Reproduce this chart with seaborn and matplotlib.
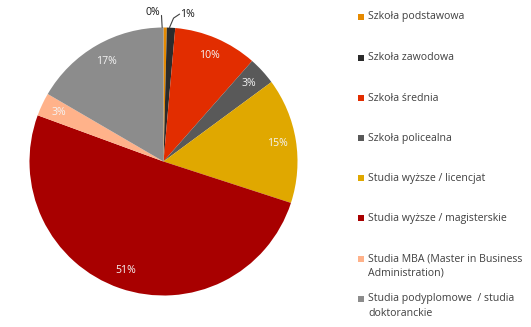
import numpy as np
import matplotlib
matplotlib.use("Agg")
import matplotlib.pyplot as plt
import seaborn as sns
from matplotlib.patches import Rectangle

categories = [
    "Szkoła podstawowa",
    "Szkoła zawodowa",
    "Szkoła średnia",
    "Szkoła policealna",
    "Studia wyższe / licencjat",
    "Studia wyższe / magisterskie",
    "Studia MBA (Master in Business\nAdministration)",
    "Studia podyplomowe  / studia\ndoktoranckie",
]
values = [0.4, 1.0, 10.1, 3.4, 15.1, 50.6, 2.8, 16.6]
colors = ["#E68A00", "#2B2B2B", "#E22D00", "#595959", "#E0A800",
          "#A80000", "#FFB28A", "#8C8C8C"]

sns.set_theme(style="white")
plt.rcParams['font.family'] = ['Open Sans', 'DejaVu Sans']
FS = 7.6

W, H = 531, 327
fig = plt.figure(figsize=(W / 100, H / 100), dpi=100)
cx, cy, r = 163.5, 161.5, 134
ax = fig.add_axes([(cx - r) / W, (H - cy - r) / H, 2 * r / W, 2 * r / H])

total = sum(values)

def fmt(p):
    return "" if p < 2 else f"{p:.0f}%"

wedges, texts, autotexts = ax.pie(
    values, colors=colors, startangle=90, counterclock=False,
    autopct=fmt, pctdistance=0.86, radius=1,
    wedgeprops=dict(linewidth=0),
    textprops=dict(color="#F4F4F4", fontsize=FS),
)
ax.set_xlim(-1, 1)
ax.set_ylim(-1, 1)
ax.set_aspect("equal")
ax.axis("off")

# outside labels for the tiny slices
for i, (txt_xy, path) in enumerate([
    ((-0.08, 1.11), [(-0.01, 1.0), (-0.015, 1.09)]),
    ((0.18, 1.10), [(0.045, 1.0), (0.075, 1.07), (0.12, 1.10)]),
]):
    pct = values[i] / total * 100
    ax.plot([p[0] for p in path], [p[1] for p in path],
            color="#404040", lw=0.8, clip_on=False)
    ax.text(txt_xy[0], txt_xy[1], f"{pct:.0f}%", ha="center", va="center",
            fontsize=FS, color="#1a1a1a", clip_on=False)

# legend
ys = [17, 58, 98, 138, 178, 218, 259, 299]
for lab, col, y in zip(categories, colors, ys):
    fig.patches.append(Rectangle((358 / W, (H - y - 3) / H), 6 / W, 6 / H,
                                 transform=fig.transFigure, facecolor=col,
                                 edgecolor="none"))
    for k, ln in enumerate(lab.split("\n")):
        fig.text(368 / W, (H - y - k * 14) / H, ln, ha="left", va="center",
                 fontsize=FS, color="#404040")

fig.savefig("out.png", dpi=100, facecolor="white")
